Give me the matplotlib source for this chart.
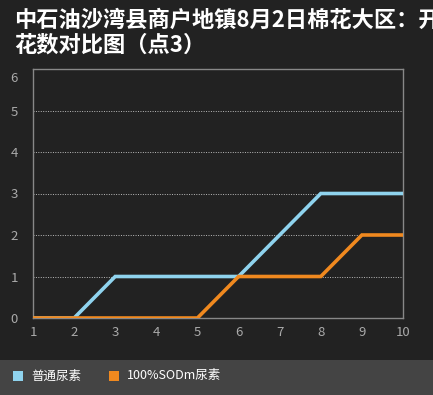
import matplotlib.pyplot as plt
import matplotlib.patches as mpatches
from matplotlib.transforms import ScaledTranslation

plt.rcParams['font.family'] = ['Noto Sans CJK SC', 'DejaVu Sans']

# --- Data ---
days = [1, 2, 3, 4, 5, 6, 7, 8, 9, 10]
urea = [0, 0, 1, 1, 1, 1, 2, 3, 3, 3]
sodm_urea = [0, 0, 0, 0, 0, 1, 1, 1, 2, 2]
series_names = ['普通尿素', '100%SODm尿素']
title_lines = ['中石油沙湾县商户地镇8月2日棉花大区：开', '花数对比图（点3）']

BG = '#222222'
BLUE = '#8fd3ee'
ORANGE = '#f0891f'

fig = plt.figure(figsize=(4.33, 3.95), dpi=100, facecolor=BG)
ax = fig.add_axes([33 / 433, 77 / 395, 370 / 433, 249 / 395], facecolor=BG)

ax.plot(days, urea, color=BLUE, linewidth=2.6, solid_joinstyle='miter', zorder=3)
ax.plot(days, sodm_urea, color=ORANGE, linewidth=2.6, solid_joinstyle='miter', zorder=4)

ax.set_xlim(1, 10)
ax.set_ylim(0, 6)
ax.set_xticks(days)
ax.set_yticks(range(0, 7))
ax.tick_params(colors='#aaaaaa', labelsize=9.5, length=0)
ax.tick_params(axis='x', pad=6)
ax.tick_params(axis='y', pad=11)
# top label sits a bit lower, as in the original
ylabels = ax.get_yticklabels()
ylabels[-1].set_transform(ylabels[-1].get_transform()
                          + ScaledTranslation(0, -0.08, fig.dpi_scale_trans))

ax.grid(axis='y', color='#bbbbbb', linestyle=(0, (1, 1.5)), linewidth=0.7)
ax.grid(axis='x', visible=False)
for s in ax.spines.values():
    s.set_color('#888888')
    s.set_linewidth(1)

# --- Title ---
fig.text(14 / 433, 1 - 20 / 395, title_lines[0], color='white', fontsize=16,
         fontweight='bold', va='center', ha='left')
fig.text(14 / 433, 1 - 45 / 395, title_lines[1], color='white', fontsize=16,
         fontweight='bold', va='center', ha='left')

# --- Legend bar ---
fig.add_artist(mpatches.Rectangle((0, 0), 1, 35 / 395, transform=fig.transFigure,
                                  facecolor='#444444', edgecolor='none'))
legend_x = [13, 109]
for x, name, c in zip(legend_x, series_names, [BLUE, ORANGE]):
    fig.add_artist(mpatches.Rectangle((x / 433, 14 / 395), 10 / 433, 10 / 395,
                                      transform=fig.transFigure, facecolor=c,
                                      edgecolor='none'))
    fig.text((x + 18) / 433, 19 / 395, name, color='white', fontsize=9,
             va='center', ha='left')

plt.savefig('out.png', dpi=100, facecolor=BG)
plt.close()
